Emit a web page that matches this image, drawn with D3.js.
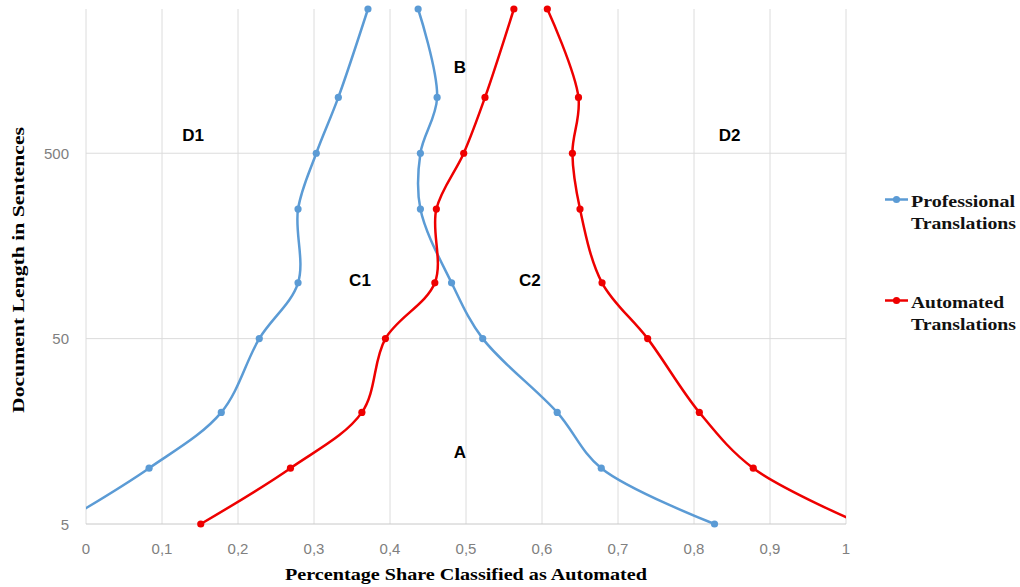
<!DOCTYPE html>
<html>
<head>
<meta charset="utf-8">
<script src="https://cdn.jsdelivr.net/npm/d3@7"></script>
<style>
    body { margin: 0; background: #ffffff; }
</style>
</head>
<body>
<div id="chart"></div>
<script>
// Document lengths (y axis, log scale)
var lengths = [5, 10, 20, 50, 100, 250, 500, 1000, 3000];

// Share classified as automated, one array per curve
var profLeft = [-0.035, 0.083, 0.178, 0.228, 0.279, 0.279, 0.303, 0.332, 0.371];
var profRight = [0.827, 0.678, 0.620, 0.522, 0.481, 0.440, 0.440, 0.462, 0.437];
var autoLeft = [0.151, 0.269, 0.363, 0.394, 0.459, 0.461, 0.497, 0.525, 0.563];
var autoRight = [1.02, 0.878, 0.807, 0.739, 0.679, 0.650, 0.640, 0.648, 0.607];

// Ticks
var xTicks = [0, 0.1, 0.2, 0.3, 0.4, 0.5, 0.6, 0.7, 0.8, 0.9, 1];
var yTicks = [5, 50, 500];

// Region annotations (in data units)
var regionNames = ["D1", "B", "D2", "C1", "C2", "A"];
var regionX = [0.141, 0.492, 0.847, 0.3605, 0.584, 0.492];
var regionY = [630, 1460, 630, 104, 104, 12.2];

var legendNames = [["Professional", "Translations"], ["Automated", "Translations"]];

var blue = "#5b9bd5";
var red = "#ee0000";

var width = 1020, height = 587;
var margin = { left: 86, right: 174, top: 9, bottom: 63 };

var svg = d3.select("#chart")
    .append("svg")
    .attr("width", width)
    .attr("height", height);

var x = d3.scaleLinear()
    .domain([0, 1])
    .range([margin.left, width - margin.right]);

var y = d3.scaleLog()
    .domain([5, 3000])
    .range([height - margin.bottom, margin.top]);

// Gridlines
svg.append("g")
    .selectAll("line")
    .data(xTicks)
    .enter()
    .append("line")
    .attr("x1", d => x(d)).attr("x2", d => x(d))
    .attr("y1", y(3000)).attr("y2", y(5))
    .attr("stroke", "#dcdcdc")
    .attr("stroke-width", 1);

svg.append("g")
    .selectAll("line")
    .data(yTicks)
    .enter()
    .append("line")
    .attr("x1", x(0)).attr("x2", x(1))
    .attr("y1", d => y(d)).attr("y2", d => y(d))
    .attr("stroke", d => d === 5 ? "#c8c8c8" : "#dcdcdc")
    .attr("stroke-width", 1);

// Tick labels
svg.append("g")
    .selectAll("text")
    .data(xTicks)
    .enter()
    .append("text")
    .attr("x", d => x(d))
    .attr("y", y(5) + 30)
    .attr("text-anchor", "middle")
    .attr("font-family", "Liberation Sans, Arial, sans-serif")
    .attr("font-size", 15)
    .attr("fill", "#808080")
    .text(d => String(d).replace(".", ","));

svg.append("g")
    .selectAll("text")
    .data(yTicks)
    .enter()
    .append("text")
    .attr("x", x(0) - 17)
    .attr("y", d => y(d) + 5.5)
    .attr("text-anchor", "end")
    .attr("font-family", "Liberation Sans, Arial, sans-serif")
    .attr("font-size", 15)
    .attr("fill", "#808080")
    .text(d => d);

// Clip lines to plot area horizontally
svg.append("clipPath")
    .attr("id", "plotClip")
    .append("rect")
    .attr("x", x(0)).attr("y", 0)
    .attr("width", x(1) - x(0)).attr("height", height);

var line = d3.line()
    .x(d => x(d[0]))
    .y(d => y(d[1]))
    .curve(d3.curveCatmullRom.alpha(0.5));

var curves = [
    { values: profLeft, color: blue },
    { values: profRight, color: blue },
    { values: autoLeft, color: red },
    { values: autoRight, color: red }
];

curves.forEach(function(c) {
    var pts = c.values.map((v, i) => [v, lengths[i]]);

    svg.append("path")
        .datum(pts)
        .attr("d", line)
        .attr("fill", "none")
        .attr("stroke", c.color)
        .attr("stroke-width", 2.5)
        .attr("clip-path", "url(#plotClip)");

    svg.append("g")
        .selectAll("circle")
        .data(pts.filter(p => p[0] >= 0 && p[0] <= 1))
        .enter()
        .append("circle")
        .attr("cx", d => x(d[0]))
        .attr("cy", d => y(d[1]))
        .attr("r", 3.6)
        .attr("fill", c.color);
});

// Region labels
svg.append("g")
    .selectAll("text")
    .data(regionNames)
    .enter()
    .append("text")
    .attr("x", (d, i) => x(regionX[i]))
    .attr("y", (d, i) => y(regionY[i]) + 6)
    .attr("text-anchor", "middle")
    .attr("font-family", "Liberation Sans, Arial, sans-serif")
    .attr("font-weight", "bold")
    .attr("font-size", 17)
    .attr("fill", "#000")
    .text(d => d);

// Axis titles
svg.append("text")
    .attr("x", (x(0) + x(1)) / 2)
    .attr("y", 580)
    .attr("text-anchor", "middle")
    .attr("font-family", "Liberation Serif, Times New Roman, serif")
    .attr("font-weight", "bold")
    .attr("font-size", 17)
    .attr("textLength", 362)
    .attr("lengthAdjust", "spacingAndGlyphs")
    .text("Percentage Share Classified as Automated");

svg.append("text")
    .attr("transform", "translate(24," + 270 + ") rotate(-90)")
    .attr("text-anchor", "middle")
    .attr("font-family", "Liberation Serif, Times New Roman, serif")
    .attr("font-weight", "bold")
    .attr("font-size", 17)
    .attr("textLength", 286)
    .attr("lengthAdjust", "spacingAndGlyphs")
    .text("Document Length in Sentences");

// Legend
var legendColors = [blue, red];
var legendTop = [199.5, 300.5];
var legendWidths = [[104, 105], [93, 105]];

legendNames.forEach(function(names, i) {
    var g = svg.append("g");
    g.append("line")
        .attr("x1", 885).attr("x2", 908)
        .attr("y1", legendTop[i]).attr("y2", legendTop[i])
        .attr("stroke", legendColors[i])
        .attr("stroke-width", 2.5);
    g.append("circle")
        .attr("cx", 896.5).attr("cy", legendTop[i])
        .attr("r", 3.6)
        .attr("fill", legendColors[i]);
    names.forEach(function(n, j) {
        g.append("text")
            .attr("x", 911)
            .attr("y", legendTop[i] + 7 + j * 22.5)
            .attr("font-family", "Liberation Serif, Times New Roman, serif")
            .attr("font-weight", "bold")
            .attr("font-size", 17)
            .attr("textLength", legendWidths[i][j])
            .attr("lengthAdjust", "spacingAndGlyphs")
            .attr("fill", "#111")
            .text(n);
    });
});
</script>
</body>
</html>
